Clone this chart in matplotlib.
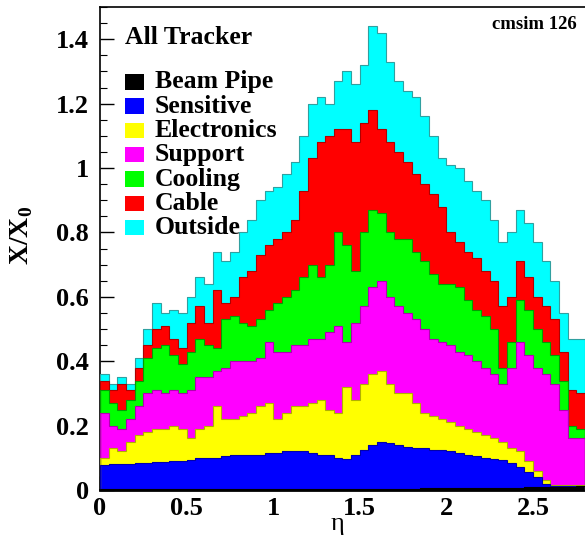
import numpy as np
import matplotlib
matplotlib.use("Agg")
import matplotlib.pyplot as plt
from matplotlib.patches import Rectangle

# eta bin edges (0.05 wide), values are cumulative X/X0 per bin (ROOT-style overlaid histos)
eta_edges = np.round(np.arange(0, 2.8001, 0.05), 3)

outside = [0.36, 0.33, 0.35, 0.33, 0.41, 0.50, 0.58, 0.55, 0.56, 0.55,
           0.60, 0.66, 0.64, 0.74, 0.71, 0.74, 0.80, 0.84, 0.90, 0.93,
           0.94, 0.98, 1.02, 1.10, 1.20, 1.22, 1.20, 1.27, 1.30, 1.26,
           1.32, 1.44, 1.42, 1.33, 1.27, 1.24, 1.22, 1.16, 1.10, 1.03,
           1.01, 1.00, 0.96, 0.93, 0.90, 0.84, 0.77, 0.80, 0.87, 0.83,
           0.77, 0.71, 0.65, 0.55, 0.47, 0.47]
cable = [0.34, 0.31, 0.33, 0.31, 0.38, 0.45, 0.50, 0.51, 0.47, 0.44,
         0.52, 0.57, 0.52, 0.62, 0.58, 0.60, 0.66, 0.68, 0.73, 0.76,
         0.78, 0.80, 0.84, 0.93, 1.03, 1.08, 1.10, 1.12, 1.12, 1.08,
         1.14, 1.18, 1.12, 1.08, 1.05, 1.02, 0.98, 0.95, 0.92, 0.88,
         0.80, 0.77, 0.74, 0.72, 0.68, 0.65, 0.57, 0.60, 0.71, 0.66,
         0.60, 0.57, 0.53, 0.43, 0.31, 0.30]
cooling = [0.31, 0.27, 0.25, 0.28, 0.34, 0.41, 0.44, 0.45, 0.42, 0.39,
           0.43, 0.47, 0.45, 0.44, 0.53, 0.54, 0.52, 0.51, 0.53, 0.56,
           0.58, 0.60, 0.62, 0.66, 0.70, 0.66, 0.70, 0.80, 0.76, 0.68,
           0.80, 0.87, 0.86, 0.80, 0.78, 0.78, 0.74, 0.71, 0.67, 0.64,
           0.64, 0.63, 0.59, 0.56, 0.54, 0.50, 0.38, 0.46, 0.59, 0.56,
           0.50, 0.46, 0.42, 0.34, 0.20, 0.19]
support = [0.24, 0.20, 0.19, 0.22, 0.26, 0.30, 0.31, 0.30, 0.31, 0.30,
           0.31, 0.35, 0.35, 0.37, 0.38, 0.40, 0.40, 0.40, 0.41, 0.46,
           0.43, 0.43, 0.45, 0.45, 0.47, 0.47, 0.49, 0.51, 0.46, 0.52,
           0.57, 0.63, 0.65, 0.60, 0.57, 0.55, 0.53, 0.50, 0.47, 0.46,
           0.45, 0.43, 0.42, 0.40, 0.38, 0.36, 0.33, 0.38, 0.46, 0.42,
           0.38, 0.36, 0.33, 0.25, 0.16, 0.16]
electronics = [0.10, 0.13, 0.12, 0.15, 0.17, 0.18, 0.19, 0.19, 0.20, 0.19,
               0.16, 0.19, 0.20, 0.26, 0.22, 0.22, 0.23, 0.24, 0.26, 0.27,
               0.22, 0.24, 0.26, 0.26, 0.27, 0.28, 0.25, 0.24, 0.32, 0.28,
               0.33, 0.36, 0.37, 0.33, 0.30, 0.30, 0.27, 0.24, 0.23, 0.22,
               0.21, 0.20, 0.19, 0.18, 0.17, 0.16, 0.15, 0.13, 0.12, 0.09,
               0.06, 0.03, 0.015, 0.015, 0.015, 0.015]
sensitive = [0.078, 0.082, 0.082, 0.082, 0.084, 0.085, 0.087, 0.088, 0.090, 0.090,
             0.094, 0.100, 0.100, 0.100, 0.105, 0.110, 0.110, 0.110, 0.110, 0.115,
             0.115, 0.120, 0.120, 0.120, 0.115, 0.110, 0.110, 0.100, 0.095, 0.110,
             0.125, 0.140, 0.150, 0.145, 0.140, 0.135, 0.130, 0.130, 0.125, 0.125,
             0.120, 0.115, 0.110, 0.105, 0.100, 0.095, 0.092, 0.085, 0.070, 0.055,
             0.040, 0.020, 0.012, 0.012, 0.012, 0.012]
beampipe = [0.003, 0.003, 0.003, 0.003, 0.003, 0.003, 0.003, 0.003, 0.003, 0.003,
            0.003, 0.003, 0.003, 0.003, 0.003, 0.003, 0.003, 0.003, 0.003, 0.003,
            0.003, 0.003, 0.003, 0.003, 0.003, 0.003, 0.003, 0.003, 0.003, 0.003,
            0.004, 0.004, 0.004, 0.004, 0.004, 0.004, 0.004, 0.005, 0.005, 0.005,
            0.005, 0.005, 0.006, 0.006, 0.006, 0.006, 0.007, 0.007, 0.007, 0.008,
            0.008, 0.009, 0.009, 0.010, 0.010, 0.011]

labels = ["Beam Pipe", "Sensitive", "Electronics", "Support", "Cooling", "Cable", "Outside"]
colors = ["#000000", "#0000ff", "#ffff00", "#ff00ff", "#00ff00", "#ff0000", "#00ffff"]
edges = ["#000000", "#0000aa", "#b0b000", "#b000b0", "#00a000", "#b00000", "#30a0a0"]
series = [beampipe, sensitive, electronics, support, cooling, cable, outside]

plt.rcParams["font.family"] = ["Liberation Serif", "DejaVu Serif"]
plt.rcParams["mathtext.fontset"] = "custom"
plt.rcParams["mathtext.rm"] = "Liberation Serif"
plt.rcParams["mathtext.bf"] = "Liberation Serif:bold"

fig = plt.figure(figsize=(5.85, 5.43), dpi=100)
ax = fig.add_axes([100 / 585, 53 / 543, 485 / 585, 483 / 543])

# draw outermost first, like overlaid ROOT histograms
for vals, c, ec in reversed(list(zip(series, colors, edges))):
    ax.stairs(vals, eta_edges, fill=True, color=c, zorder=2)
    ax.stairs(vals, eta_edges, color=ec, linewidth=0.8, zorder=3)

ax.set_xlim(0, 2.8)
ax.set_ylim(0, 1.5)
ax.set_xticks([0, 0.5, 1, 1.5, 2, 2.5])
ax.set_xticklabels(["0", "0.5", "1", "1.5", "2", "2.5"])
ax.set_yticks([0, 0.2, 0.4, 0.6, 0.8, 1.0, 1.2, 1.4])
ax.set_yticklabels(["0", "0.2", "0.4", "0.6", "0.8", "1", "1.2", "1.4"])
ax.set_xticks(np.arange(0, 2.81, 0.1), minor=True)
ax.set_yticks(np.arange(0, 1.51, 0.05), minor=True)
ax.tick_params(which="both", direction="in", top=False, right=False)
ax.tick_params(which="major", length=10, width=1, labelsize=19)
ax.tick_params(axis="y", which="major", pad=8)
ax.tick_params(axis="x", which="major", pad=5)
ax.tick_params(which="minor", length=5, width=0.8)
for lab in ax.get_xticklabels() + ax.get_yticklabels():
    lab.set_fontweight("bold")
ax.spines["right"].set_visible(False)
ax.spines["bottom"].set_linewidth(2)
ax.spines["left"].set_linewidth(1.2)
ax.spines["top"].set_linewidth(1.2)

fig.text(22 / 585, 1 - 235 / 543, r"X/X$_\mathbf{0}$", rotation=90, ha="center", va="center",
         fontsize=20, fontweight="bold")
fig.text(337 / 585, 1 - 530 / 543, "η", ha="center", va="baseline", fontsize=19)

ax.text(0.052, 0.936, "All Tracker", transform=ax.transAxes, ha="left", va="center",
        fontsize=18.5, fontweight="bold", zorder=5)
ax.text(0.983, 0.963, "cmsim 126", transform=ax.transAxes, ha="right", va="center",
        fontsize=13.5, fontweight="bold", zorder=5)

y0 = 0.845
dy = 0.0503
for i, (lab, c) in enumerate(zip(labels, colors)):
    y = y0 - i * dy
    ax.add_patch(Rectangle((0.052, y - 0.016), 0.038, 0.032, transform=ax.transAxes,
                           facecolor=c, edgecolor="none", zorder=5))
    ax.text(0.113, y, lab, transform=ax.transAxes, ha="left", va="center",
            fontsize=18.5, fontweight="bold", zorder=5)

fig.savefig("out.png", dpi=100)
